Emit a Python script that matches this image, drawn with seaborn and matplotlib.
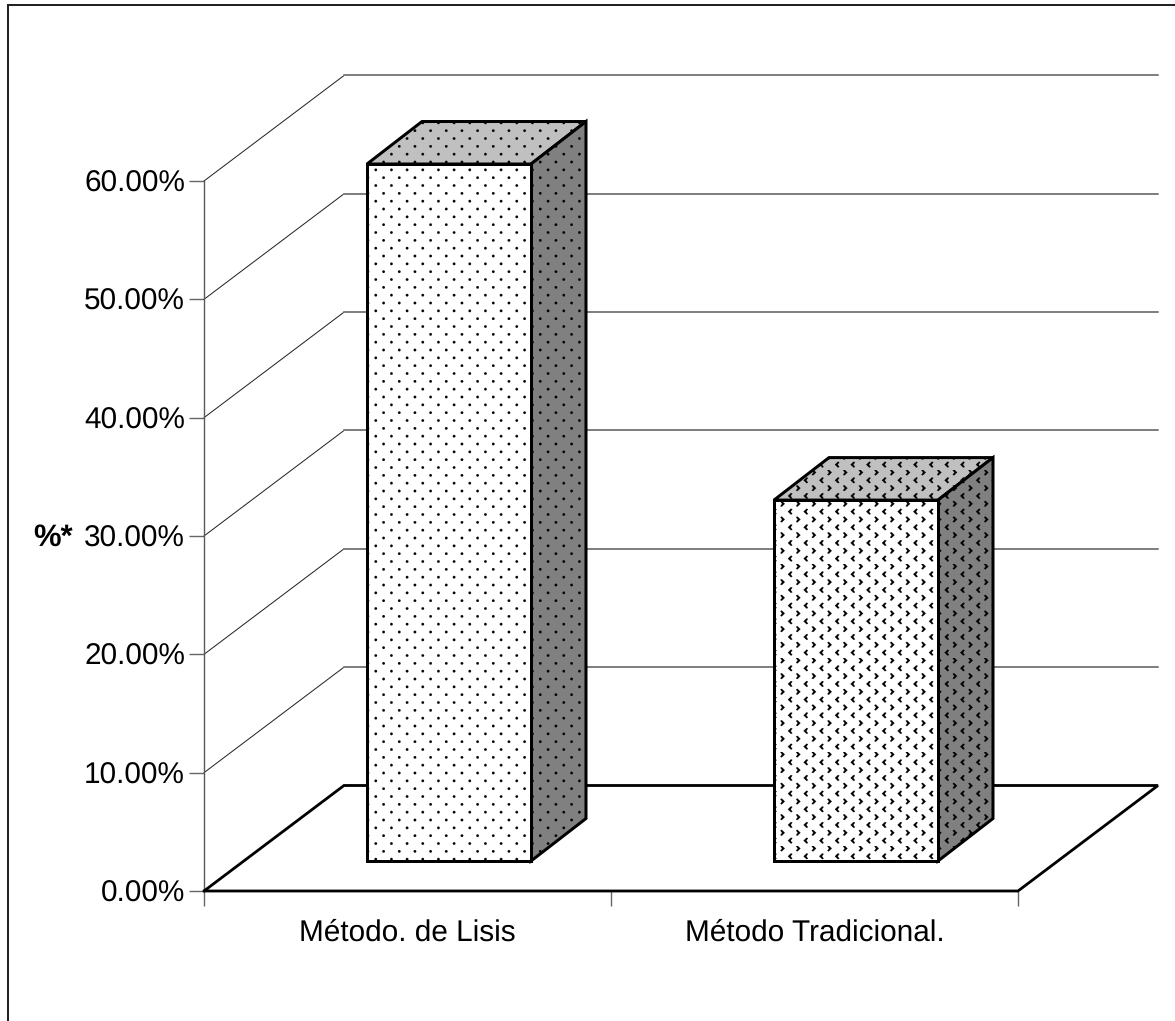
import matplotlib
matplotlib.use("Agg")
import matplotlib.hatch as mhatch
import matplotlib.pyplot as plt
import numpy as np
import pandas as pd
import seaborn as sns
from matplotlib.lines import Line2D
from matplotlib.path import Path
from matplotlib.patches import Polygon

# Chart data
categories = ["Método. de Lisis", "Método Tradicional."]
percentages = [58.9, 30.5]
y_ticks = [0, 10, 20, 30, 40, 50, 60]
y_axis_label = "%*"

# Figure geometry
DPI = 94
WIDTH_PX, HEIGHT_PX = 1175, 1021
PX = 72 / DPI
PLOT_LEFT, PLOT_RIGHT, PLOT_TOP, PLOT_BASE = 204, 1018, 181, 891
X_UNIT = (PLOT_RIGHT - PLOT_LEFT) / 2
Y_UNIT = (PLOT_BASE - PLOT_TOP) / 60

# Oblique projection offsets, in data units
WALL_DX, WALL_DY = 140 / X_UNIT, 105.5 / Y_UNIT
BAR_DX, BAR_DY = 55 / X_UNIT, 42.5 / Y_UNIT
BAR_SHIFT_X, BAR_LIFT = 41.5 / X_UNIT, 30 / Y_UNIT
BAR_WIDTH = 164 / X_UNIT

FONT_PT = 29.8 * PX


class LatticeHatch(mhatch.HatchPatternBase):
    """Staggered fill pattern: rows twice as dense as columns."""
    char = ""
    phase = (0.0, 0.0)

    def __init__(self, hatch, density):
        self.rows = []
        self.num_vertices = 0
        if hatch.count(self.char):
            n = int(density)
            for r in range(-1, 2 * n + 1):
                y = (r + 0.5) / (2 * n) + self.phase[1]
                for c in range(-1, n + 2):
                    x = (c + 0.5 * (r % 2)) / n + self.phase[0]
                    self.rows.append((x, y, r % 2))
            self.num_vertices = sum(len(self.shape(p)[0]) for p in self.rows)

    def set_vertices_and_codes(self, vertices, codes):
        cursor = 0
        for point in self.rows:
            verts, kinds = self.shape(point)
            vertices[cursor:cursor + len(verts)] = verts
            codes[cursor:cursor + len(verts)] = kinds
            cursor += len(verts)


class DotHatch(LatticeHatch):
    char = "."
    phase = (7.6 / DPI, 6.4 / DPI)

    def shape(self, point):
        circle = Path.unit_circle()
        return circle.vertices * (1.3 / DPI) + point[:2], circle.codes


class ChevronHatch(LatticeHatch):
    char = "o"
    phase = (-0.9 / DPI, 9.3 / DPI)

    def shape(self, point):
        x, y, odd = point
        s = 1 if odd else -1
        outline = np.array([(-2.4, 0), (0.7, 3.0), (2.1, 2.3), (0.4, 0),
                            (2.1, -2.3), (0.7, -3.0), (-2.4, 0)], float)
        outline[:, 0] *= s
        verts = outline / DPI + (x, y)
        kinds = [Path.MOVETO] + [Path.LINETO] * 5 + [Path.CLOSEPOLY]
        return verts, np.array(kinds, Path.code_type)


mhatch._hatch_types[:] = [DotHatch, ChevronHatch]

sns.set_theme(style="white")
plt.rcParams["font.family"] = ["Liberation Sans", "DejaVu Sans"]
plt.rcParams["hatch.linewidth"] = 0.1
plt.rcParams["text.hinting"] = "none"

fig = plt.figure(figsize=(WIDTH_PX / DPI + 1e-6, HEIGHT_PX / DPI + 1e-6), dpi=DPI)
ax = fig.add_axes([PLOT_LEFT / WIDTH_PX, 1 - PLOT_BASE / HEIGHT_PX,
                   (PLOT_RIGHT - PLOT_LEFT) / WIDTH_PX,
                   (PLOT_BASE - PLOT_TOP) / HEIGHT_PX])

table = pd.DataFrame({"metodo": categories, "porcentaje": percentages})
sns.barplot(data=table, x="metodo", y="porcentaje", ax=ax, width=BAR_WIDTH,
            color="white", saturation=1, edgecolor="black",
            linewidth=3.0 * PX, zorder=6)

# Back walls and floor
XMIN, XMAX = -0.5, 1.5
ax.set_xlim(XMIN, XMAX)
ax.set_ylim(0, 60)
for tick in y_ticks[1:]:
    ax.plot([XMIN, XMIN + WALL_DX], [tick, tick + WALL_DY],
            color="#222222", lw=1.0 * PX, clip_on=False, zorder=2)
    ax.plot([XMIN + WALL_DX, XMAX + WALL_DX], [tick + WALL_DY, tick + WALL_DY],
            color="#808080", lw=2.0 * PX, clip_on=False, zorder=2)
ax.plot([XMIN, XMIN + WALL_DX, XMAX + WALL_DX, XMAX, XMIN],
        [0, WALL_DY, WALL_DY, 0, 0],
        color="black", lw=2.8 * PX, clip_on=False, zorder=3,
        solid_joinstyle="miter")

# Extrude each bar: shifted front face, lit top face, shaded side face
hatches = [".", "o"]
for bar, hatch in zip(ax.patches, hatches):
    bar.set_x(bar.get_x() + BAR_SHIFT_X)
    bar.set_y(BAR_LIFT)
    bar.set_hatch(hatch)
    bar.set_clip_on(False)
    x0, x1 = bar.get_x(), bar.get_x() + bar.get_width()
    y0, y1 = bar.get_y(), bar.get_y() + bar.get_height()
    top = [(x0, y1), (x1, y1), (x1 + BAR_DX, y1 + BAR_DY), (x0 + BAR_DX, y1 + BAR_DY)]
    side = [(x1, y0), (x1 + BAR_DX, y0 + BAR_DY), (x1 + BAR_DX, y1 + BAR_DY), (x1, y1)]
    for corners, shade in ((top, "#c0c0c0"), (side, "#808080")):
        ax.add_patch(Polygon(corners, closed=True, facecolor=shade,
                             edgecolor="black", linewidth=3.0 * PX,
                             hatch=hatch, clip_on=False, zorder=5,
                             joinstyle="miter"))

# Axes, ticks and labels
for name in ("top", "right", "bottom"):
    ax.spines[name].set_visible(False)
ax.spines["left"].set_color("#5a5a5a")
ax.spines["left"].set_linewidth(1.4 * PX)
ax.set_yticks(y_ticks, [f"{t:.2f}%" for t in y_ticks])
ax.set_xticks([0, 1], categories)
ax.set_xticks([XMIN, 0.5, XMAX], minor=True)
ax.tick_params(axis="y", which="major", left=True, length=15 * PX, width=1.4 * PX,
               color="#666666", pad=4 * PX, labelsize=FONT_PT, labelcolor="black")
ax.tick_params(axis="x", which="major", bottom=False, length=0, pad=28 * PX,
               labelsize=FONT_PT, labelcolor="black")
ax.tick_params(axis="x", which="minor", bottom=True, length=15 * PX, width=1.4 * PX,
               color="#666666")
ax.set_xlabel("")
ax.set_ylabel(y_axis_label, rotation=0, fontsize=31 * PX, fontweight="bold",
              color="black", ha="center", va="center")
ax.yaxis.set_label_coords((53 - PLOT_LEFT) / (PLOT_RIGHT - PLOT_LEFT),
                          (PLOT_BASE - 538) / (PLOT_BASE - PLOT_TOP))

# Frame along the top and left edges
frame_x = 7.5 / WIDTH_PX
frame_y = 1 - 5 / HEIGHT_PX
fig.add_artist(Line2D([frame_x, frame_x, 1], [0, frame_y, frame_y],
                      color="#222222", lw=2.0 * PX, solid_joinstyle="miter"))

fig.savefig("out.png", dpi=DPI, facecolor="white")
